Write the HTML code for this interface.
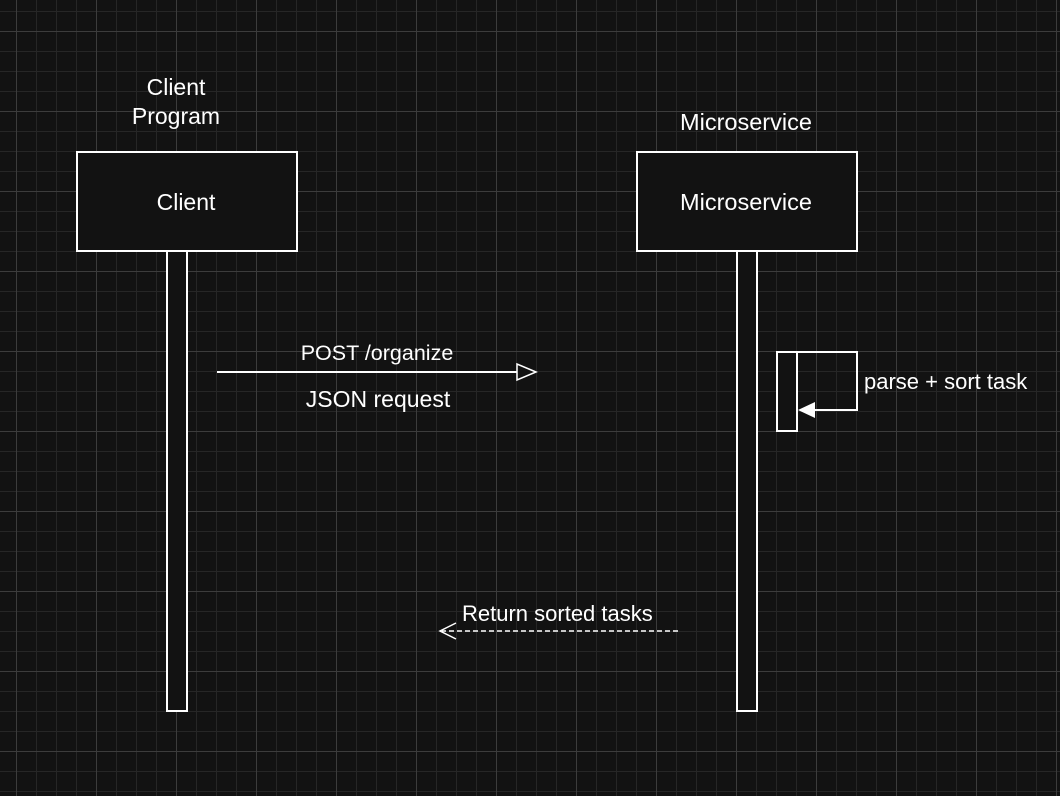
<!DOCTYPE html>
<html><head><style>
html,body{margin:0;padding:0;width:1060px;height:796px;overflow:hidden;background:#121212}
</style></head><body>
<svg width="1060" height="796" xmlns="http://www.w3.org/2000/svg" font-family="Liberation Sans, Arial, sans-serif">
<defs>
<pattern id="mi" width="20" height="20" patternUnits="userSpaceOnUse" x="16" y="11">
<path d="M0 0.5H20M0.5 0V20" stroke="#262626" stroke-width="1" fill="none"/>
</pattern>
<pattern id="ma" width="80" height="80" patternUnits="userSpaceOnUse" x="16" y="31">
<path d="M0 0.5H80M0.5 0V80" stroke="#3c3c3c" stroke-width="1" fill="none"/>
</pattern>
</defs>
<rect width="1060" height="796" fill="#121212"/>
<rect width="1060" height="796" fill="url(#mi)"/>
<rect width="1060" height="796" fill="url(#ma)"/>
<g stroke="#fff" stroke-width="2" fill="#121212">
<rect x="167" y="251" width="20" height="460"/>
<rect x="77" y="152" width="220" height="99"/>
<rect x="737" y="251" width="20" height="460"/>
<rect x="637" y="152" width="220" height="99"/>
<rect x="777" y="352" width="20" height="79"/>
<polyline points="797,352 857,352 857,410 812,410" fill="none"/>
<line x1="217" y1="372" x2="518" y2="372"/>
<line x1="678" y1="631" x2="442" y2="631" stroke-dasharray="5,3" stroke-width="1.5"/>
</g>
<polygon points="798,410 815,402 815,418" fill="#fff"/>
<polygon points="536,372 517,364 517,380" fill="#121212" stroke="#fff" stroke-width="1.5"/>
<polyline points="456,623 440,631 456,639" fill="none" stroke="#fff" stroke-width="1.5"/>
<g fill="#fff" font-size="23" text-anchor="middle">
<text x="176" y="95">Client</text>
<text x="176" y="124">Program</text>
<text x="746" y="130" font-size="23.5">Microservice</text>
<text x="186" y="210">Client</text>
<text x="746" y="210" font-size="23.5">Microservice</text>
<text x="377" y="360" font-size="21.5">POST /organize</text>
<text x="378" y="407" font-size="23">JSON request</text>
</g>
<g fill="#fff" font-size="22">
<text x="864" y="389">parse + sort task</text>
<text x="462" y="621">Return sorted tasks</text>
</g>
</svg>
</body></html>
